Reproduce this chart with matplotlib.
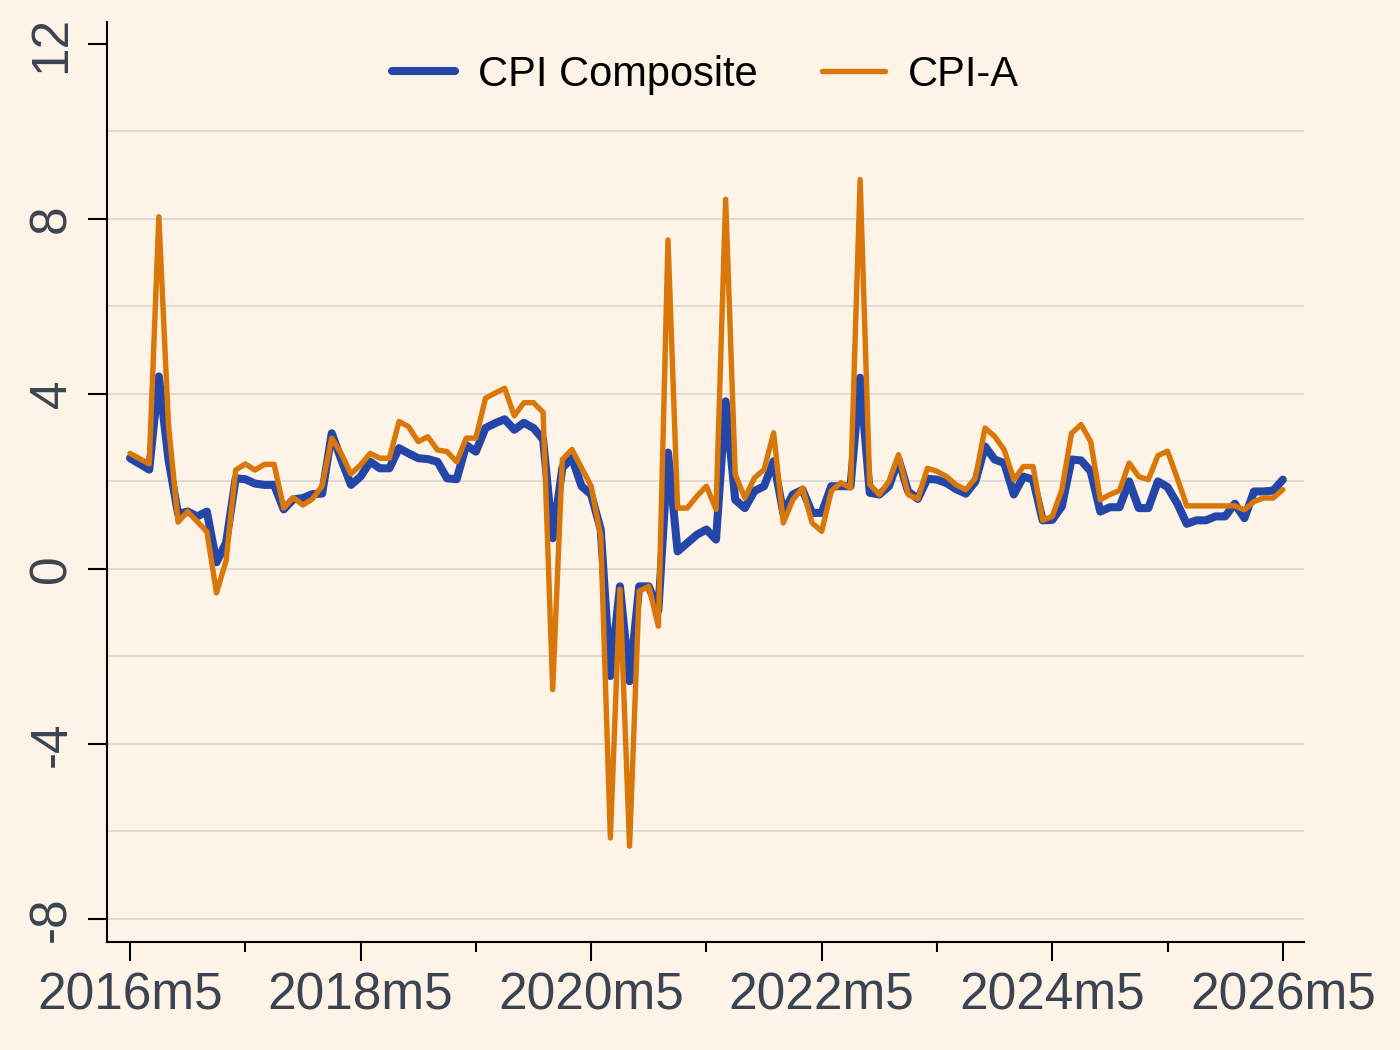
import numpy as np
import matplotlib
matplotlib.use("Agg")
import matplotlib.pyplot as plt

# monthly series, 2016m5 .. 2026m5
cpi_composite = [
    2.53, 2.40, 2.27, 4.40, 2.50, 1.26, 1.31, 1.20, 1.31, 0.15,
    0.60, 2.07, 2.05, 1.95, 1.92, 1.92, 1.36, 1.59, 1.62, 1.71,
    1.72, 3.10, 2.49, 1.92, 2.11, 2.45, 2.30, 2.30, 2.76, 2.64,
    2.53, 2.51, 2.45, 2.07, 2.05, 2.83, 2.68, 3.22, 3.33, 3.42,
    3.18, 3.34, 3.22, 2.96, 0.70, 2.31, 2.54, 1.89, 1.70, 0.90,
    -2.45, -0.40, -2.57, -0.40, -0.40, -0.95, 2.66, 0.40, 0.59, 0.78,
    0.90, 0.67, 3.83, 1.58, 1.39, 1.78, 1.89, 2.46, 1.28, 1.70,
    1.81, 1.28, 1.28, 1.89, 1.89, 1.89, 4.37, 1.74, 1.70, 1.89,
    2.50, 1.77, 1.60, 2.06, 2.04, 1.96, 1.82, 1.72, 2.00, 2.80,
    2.50, 2.42, 1.70, 2.11, 2.04, 1.11, 1.12, 1.43, 2.50, 2.48,
    2.23, 1.31, 1.41, 1.41, 2.00, 1.39, 1.39, 2.00, 1.87, 1.50,
    1.03, 1.11, 1.11, 1.20, 1.20, 1.49, 1.16, 1.77, 1.77, 1.79,
    2.04,
]
cpi_a = [
    2.64, 2.52, 2.40, 8.05, 3.30, 1.07, 1.31, 1.08, 0.85, -0.55,
    0.19, 2.26, 2.40, 2.26, 2.39, 2.39, 1.39, 1.63, 1.46, 1.60,
    1.90, 2.99, 2.63, 2.17, 2.38, 2.64, 2.53, 2.53, 3.37, 3.25,
    2.91, 3.02, 2.72, 2.68, 2.45, 2.99, 2.99, 3.90, 4.02, 4.13,
    3.50, 3.80, 3.80, 3.58, -2.76, 2.50, 2.73, 2.31, 1.89, 0.75,
    -6.15, -0.47, -6.34, -0.51, -0.40, -1.31, 7.52, 1.39, 1.39, 1.66,
    1.89, 1.36, 8.45, 2.16, 1.62, 2.08, 2.27, 3.11, 1.05, 1.58,
    1.85, 1.05, 0.86, 1.78, 1.97, 1.85, 8.90, 1.93, 1.70, 2.00,
    2.61, 1.70, 1.60, 2.30, 2.23, 2.11, 1.92, 1.81, 2.08, 3.22,
    3.03, 2.72, 2.04, 2.34, 2.34, 1.11, 1.20, 1.81, 3.10, 3.30,
    2.91, 1.58, 1.70, 1.79, 2.42, 2.11, 2.04, 2.59, 2.69, 2.08,
    1.44, 1.44, 1.44, 1.44, 1.44, 1.44, 1.35, 1.54, 1.62, 1.62,
    1.81,
]
xtick_labels = ['2016m5', '2018m5', '2020m5', '2022m5', '2024m5', '2026m5']

t = np.arange(len(cpi_composite))

bg = '#fdf3e6'
blue = '#2446a8'
orange = '#d9770a'
txt = '#3b4452'

plt.rcParams['font.family'] = ['Liberation Sans', 'DejaVu Sans']
plt.rcParams['axes.unicode_minus'] = False

fig = plt.figure(figsize=(14, 10.5), dpi=100, facecolor=bg)
ax = fig.add_axes([0.0764, 0.1029, 0.855, 0.876], facecolor=bg)

ax.plot(t, cpi_composite, color=blue, lw=5.8, label='CPI Composite',
        solid_joinstyle='round', solid_capstyle='round', zorder=3)
ax.plot(t, cpi_a, color=orange, lw=3.9, label='CPI-A',
        solid_joinstyle='round', solid_capstyle='round', zorder=4)

ax.set_xlim(-2.4, 122.2)
ax.set_ylim(-8.53, 12.5)

ax.set_xticks(np.arange(0, 121, 24))
ax.set_xticklabels(xtick_labels)
ax.set_xticks(np.arange(12, 121, 24), minor=True)
ax.set_yticks([-8, -4, 0, 4, 8, 12])
ax.set_yticks([-6, -2, 2, 6, 10], minor=True)

for v in [-8, -6, -4, -2, 0, 2, 4, 6, 8, 10]:
    ax.axhline(v, color='#d6d3d0', lw=1.1, zorder=1)

ax.tick_params(axis='x', which='major', length=14, width=1.5, pad=7,
               labelsize=37, labelcolor=txt)
ax.tick_params(axis='x', which='minor', length=7, width=1.5)
ax.tick_params(axis='y', which='major', length=14, width=1.5, pad=8,
               labelsize=37, labelcolor=txt)
ax.tick_params(axis='y', which='minor', length=0)
for lbl in ax.get_yticklabels():
    lbl.set_rotation(90)
    lbl.set_va('center')

for s in ['top', 'right']:
    ax.spines[s].set_visible(False)
for s in ['left', 'bottom']:
    ax.spines[s].set_linewidth(1.5)

leg = ax.legend(loc='center', bbox_to_anchor=(0.5, 0.943), ncol=2, frameon=False,
                fontsize=30, handlelength=1.5, handletextpad=0.55,
                columnspacing=1.55)

fig.savefig('out.png', dpi=100, facecolor=bg)
